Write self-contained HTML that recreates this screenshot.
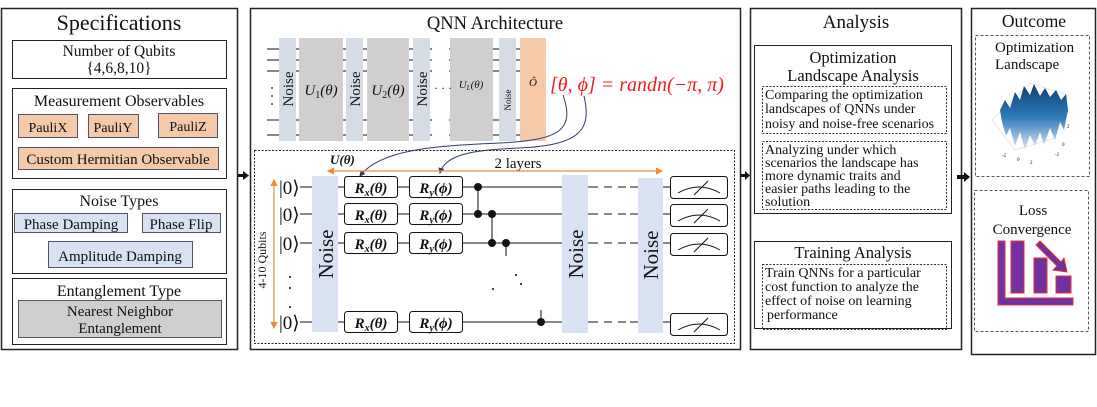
<!DOCTYPE html>
<html><head><meta charset="utf-8"><style>
body{margin:0;background:#fff}
svg{display:block}
text{font-family:"Liberation Serif",serif;fill:#111}
</style></head><body>
<svg width="1097" height="407" viewBox="0 0 1097 407" xmlns="http://www.w3.org/2000/svg">
<defs>
<marker id="ah" markerWidth="6" markerHeight="6" refX="5" refY="3" orient="auto"><path d="M0,0 L6,3 L0,6 z" fill="#2c3e6b"/></marker>
<marker id="oa" markerWidth="6" markerHeight="6" refX="5" refY="3" orient="auto-start-reverse"><path d="M0,0 L6,3 L0,6 z" fill="#f08a3c"/></marker>
<linearGradient id="surf" x1="0" y1="0" x2="0" y2="1"><stop offset="0" stop-color="#0d3f73"/><stop offset="0.5" stop-color="#2f7ab8"/><stop offset="1" stop-color="#dfe6f5"/></linearGradient>
</defs>
<g fill="none" stroke="#222">
<rect x="1.5" y="8.5" width="236" height="341" stroke-width="1.5"/>
<rect x="250.5" y="8.5" width="490" height="341" stroke-width="1.5"/>
<rect x="750.5" y="8.5" width="211" height="341" stroke-width="1.5"/>
<rect x="971.5" y="8.5" width="124" height="346" stroke-width="1.5"/>
<rect x="12.5" y="40.5" width="214" height="38"/>
<rect x="12.5" y="88.5" width="214" height="90"/>
<rect x="12.5" y="189.5" width="214" height="84"/>
<rect x="12.5" y="278.5" width="214" height="66"/>
<rect x="754.5" y="45.5" width="197" height="168"/>
<rect x="754.5" y="241.5" width="197" height="87"/>
</g>
<g fill="#111">
<rect x="238" y="174" width="6" height="3"/><path d="M243,171 L249,175.5 L243,180 z"/>
<rect x="741" y="174" width="5" height="3"/><path d="M745,171 L750,175.5 L745,180 z"/>
<rect x="957" y="175" width="8" height="4"/><path d="M964,172 L970,177 L964,182 z"/>
</g>
<!-- Specifications -->
<text x="119" y="30" font-size="22" text-anchor="middle">Specifications</text>
<text x="119" y="56" font-size="15.5" text-anchor="middle">Number of Qubits</text>
<text x="119" y="73" font-size="15.5" text-anchor="middle">{4,6,8,10}</text>
<text x="119" y="106" font-size="16" text-anchor="middle">Measurement Observables</text>
<g stroke="#556" fill="#f6c9a8">
<rect x="18.5" y="114.5" width="59" height="23"/>
<rect x="88.5" y="114.5" width="50" height="23"/>
<rect x="158.5" y="113.5" width="59" height="24"/>
<rect x="18.5" y="147.5" width="200" height="22"/>
</g>
<text x="48" y="132" font-size="14" text-anchor="middle">PauliX</text>
<text x="113" y="132" font-size="14" text-anchor="middle">PauliY</text>
<text x="188" y="131" font-size="14" text-anchor="middle">PauliZ</text>
<text x="118" y="164" font-size="15" text-anchor="middle">Custom Hermitian Observable</text>
<text x="119" y="206" font-size="16" text-anchor="middle">Noise Types</text>
<g stroke="#556" fill="#d8e2f2">
<rect x="14.5" y="213.5" width="113" height="19"/>
<rect x="142.5" y="213.5" width="78" height="19"/>
<rect x="48.5" y="241.5" width="144" height="26"/>
</g>
<text x="71" y="229" font-size="15" text-anchor="middle">Phase Damping</text>
<text x="181" y="229" font-size="15" text-anchor="middle">Phase Flip</text>
<text x="120" y="261" font-size="15" text-anchor="middle">Amplitude Damping</text>
<text x="119" y="296" font-size="16" text-anchor="middle">Entanglement Type</text>
<rect x="18.5" y="300.5" width="203" height="37" fill="#d0cece" stroke="#556"/>
<text x="120" y="316" font-size="15" text-anchor="middle">Nearest Neighbor</text>
<text x="120" y="333" font-size="15" text-anchor="middle">Entanglement</text>

<!-- QNN top -->
<text x="495" y="29" font-size="18.5" text-anchor="middle">QNN Architecture</text>
<g stroke="#111" stroke-width="1">
<line x1="267" y1="49" x2="520" y2="49"/><line x1="267" y1="60" x2="520" y2="60"/><line x1="267" y1="71" x2="520" y2="71"/>
<line x1="267" y1="120" x2="520" y2="120"/><line x1="267" y1="135" x2="520" y2="135"/>
</g>
<g fill="#d6dce6"><rect x="279" y="38" width="17" height="103"/><rect x="346" y="38" width="17" height="103"/><rect x="413" y="38" width="17" height="103"/><rect x="499" y="38" width="17" height="103"/></g>
<g fill="#d0cece"><rect x="299" y="38" width="44" height="103"/><rect x="367" y="38" width="42" height="103"/><rect x="450" y="38" width="43" height="103"/></g>
<rect x="520" y="38" width="26" height="103" fill="#f6c9a8"/>
<rect x="432" y="38" width="17" height="103" fill="#fff"/>
<rect x="267" y="78" width="11" height="36" fill="#fff"/>
<g fill="#111"><circle cx="272" cy="88" r="0.9"/><circle cx="272" cy="96" r="0.9"/><circle cx="272" cy="104" r="0.9"/></g>
<text x="434" y="92" font-size="12">· · ·</text>
<g font-size="15"><text transform="translate(293,89) rotate(-90)" text-anchor="middle">Noise</text>
<text transform="translate(360,89) rotate(-90)" text-anchor="middle">Noise</text>
<text transform="translate(427,89) rotate(-90)" text-anchor="middle">Noise</text>
<text transform="translate(511,100) rotate(-90)" text-anchor="middle" font-size="9">Noise</text></g>
<text x="321" y="95" font-size="15" font-style="italic" text-anchor="middle">U<tspan font-size="10" dy="3" font-style="normal">1</tspan><tspan dy="-3">(θ)</tspan></text>
<text x="388" y="95" font-size="15" font-style="italic" text-anchor="middle">U<tspan font-size="10" dy="3" font-style="normal">2</tspan><tspan dy="-3">(θ)</tspan></text>
<text x="471" y="88" font-size="11" font-style="italic" text-anchor="middle">U<tspan font-size="7" dy="2">L</tspan><tspan dy="-2">(θ)</tspan></text>
<text x="533" y="86" font-size="11" font-style="italic" text-anchor="middle">Ô</text>
<text x="550" y="91" font-size="20" font-style="italic" style="fill:#f21c1c">[θ, ϕ] = randn(−π, π)</text>
<g fill="none" stroke="#2c3e6b" stroke-width="1">
<path d="M563,95 C575,130 560,140 500,143 C430,146 380,150 360,176" marker-end="url(#ah)"/>
<path d="M584,96 C592,130 580,145 520,148 C470,150 445,155 440,173" marker-end="url(#ah)"/>
</g>

<rect x="254.5" y="150.5" width="480" height="193" fill="none" stroke="#222" stroke-dasharray="2,1.5"/>
<text x="330" y="164" font-size="13" font-weight="bold" font-style="italic">U(θ)</text>
<text x="518" y="168" font-size="15" text-anchor="middle">2 layers</text>
<line x1="328" y1="171" x2="662" y2="171" stroke="#f08a3c" stroke-width="1.2" marker-start="url(#oa)" marker-end="url(#oa)"/>
<line x1="274" y1="180" x2="274" y2="328" stroke="#f08a3c" stroke-width="1.2" marker-start="url(#oa)" marker-end="url(#oa)"/>
<text transform="translate(266,260) rotate(-90)" font-size="12" text-anchor="middle">4-10 Qubits</text>
<g stroke="#111" stroke-width="1">
<line x1="300" y1="187" x2="590" y2="187"/><line x1="300" y1="214" x2="590" y2="214"/><line x1="300" y1="243" x2="590" y2="243"/><line x1="300" y1="322" x2="590" y2="322"/>
<line x1="630" y1="187" x2="670" y2="187"/><line x1="630" y1="214" x2="670" y2="214"/><line x1="630" y1="243" x2="670" y2="243"/><line x1="630" y1="322" x2="670" y2="322"/>
<g stroke-dasharray="8,6"><line x1="590" y1="187" x2="632" y2="187"/><line x1="590" y1="214" x2="632" y2="214"/><line x1="590" y1="243" x2="632" y2="243"/><line x1="590" y1="322" x2="632" y2="322"/></g>
<line x1="478" y1="187" x2="478" y2="214"/><line x1="492" y1="214" x2="492" y2="243"/><line x1="506" y1="243" x2="506" y2="256"/><line x1="541" y1="310" x2="541" y2="322"/>
</g>
<g fill="#111"><circle cx="478" cy="187" r="4"/><circle cx="478" cy="214" r="4"/><circle cx="492" cy="214" r="4"/><circle cx="492" cy="243" r="4"/><circle cx="506" cy="243" r="4"/><circle cx="541" cy="322" r="4"/>
<circle cx="493" cy="289" r="1"/><circle cx="516" cy="275" r="1"/><circle cx="521" cy="284" r="1"/>
<circle cx="290" cy="277" r="1"/><circle cx="290" cy="288" r="1"/><circle cx="290" cy="307" r="1"/></g>
<g font-size="19"><text x="279" y="194">|0⟩</text><text x="279" y="221">|0⟩</text><text x="279" y="250">|0⟩</text><text x="279" y="329">|0⟩</text></g>
<g fill="#d8e2f2"><rect x="312" y="176" width="26" height="156"/><rect x="562" y="175" width="26" height="158"/><rect x="638" y="178" width="25" height="155"/></g>
<g font-size="21"><text transform="translate(333,254) rotate(-90)" text-anchor="middle">Noise</text><text transform="translate(583,254) rotate(-90)" text-anchor="middle">Noise</text><text transform="translate(658,255) rotate(-90)" text-anchor="middle">Noise</text></g>
<g fill="#fff" stroke="#111">
<rect x="344.5" y="176.5" width="53" height="21" rx="3"/><rect x="409.5" y="176.5" width="53" height="21" rx="3"/>
<rect x="344.5" y="203.5" width="53" height="21" rx="3"/><rect x="409.5" y="203.5" width="53" height="21" rx="3"/>
<rect x="344.5" y="232.5" width="53" height="21" rx="3"/><rect x="409.5" y="232.5" width="53" height="21" rx="3"/>
<rect x="344.5" y="311.5" width="53" height="21" rx="3"/><rect x="409.5" y="311.5" width="53" height="21" rx="3"/>
<rect x="670.5" y="176.5" width="57" height="22" rx="3"/><rect x="670.5" y="204.5" width="57" height="22" rx="3"/><rect x="670.5" y="233.5" width="57" height="22" rx="3"/><rect x="670.5" y="313.5" width="57" height="22" rx="3"/>
</g>
<g font-size="15" font-weight="bold" font-style="italic" text-anchor="middle">
<text x="371" y="193">R<tspan font-size="10" dy="3">x</tspan><tspan dy="-3">(θ)</tspan></text><text x="436" y="193">R<tspan font-size="10" dy="3">y</tspan><tspan dy="-3">(ϕ)</tspan></text>
<text x="371" y="220">R<tspan font-size="10" dy="3">x</tspan><tspan dy="-3">(θ)</tspan></text><text x="436" y="220">R<tspan font-size="10" dy="3">y</tspan><tspan dy="-3">(ϕ)</tspan></text>
<text x="371" y="249">R<tspan font-size="10" dy="3">x</tspan><tspan dy="-3">(θ)</tspan></text><text x="436" y="249">R<tspan font-size="10" dy="3">y</tspan><tspan dy="-3">(ϕ)</tspan></text>
<text x="371" y="328">R<tspan font-size="10" dy="3">x</tspan><tspan dy="-3">(θ)</tspan></text><text x="436" y="328">R<tspan font-size="10" dy="3">y</tspan><tspan dy="-3">(ϕ)</tspan></text>
</g>
<g fill="none" stroke="#111">
<path d="M678,193 Q699,181 720,193"/><line x1="694" y1="195" x2="708" y2="181"/>
<path d="M678,221 Q699,209 720,221"/><line x1="694" y1="223" x2="708" y2="209"/>
<path d="M678,250 Q699,238 720,250"/><line x1="694" y1="252" x2="708" y2="238"/>
<path d="M678,330 Q699,318 720,330"/><line x1="694" y1="332" x2="708" y2="318"/>
</g>

<!-- Analysis -->
<text x="856" y="28" font-size="19" text-anchor="middle">Analysis</text>
<text x="853" y="63" font-size="16.5" text-anchor="middle">Optimization</text>
<text x="853" y="81" font-size="16.5" text-anchor="middle">Landscape Analysis</text>
<g fill="none" stroke="#333" stroke-dasharray="2,1.5"><rect x="762.5" y="86.5" width="184" height="47"/><rect x="762.5" y="141.5" width="184" height="68"/><rect x="762.5" y="264.5" width="184" height="65"/></g>
<g font-size="14">
<text x="765" y="99">Comparing the optimization</text><text x="765" y="113">landscapes of QNNs under</text><text x="765" y="128">noisy and noise-free scenarios</text>
<text x="765" y="154">Analyzing under which</text><text x="765" y="167">scenarios the landscape has</text><text x="765" y="180">more dynamic traits and</text><text x="765" y="193">easier paths leading to the</text><text x="765" y="206">solution</text>
<text x="765" y="277">Train QNNs for a particular</text><text x="765" y="291">cost function to analyze the</text><text x="765" y="305">effect of noise on learning</text><text x="767" y="319">performance</text>
</g>
<text x="853" y="258" font-size="16.5" text-anchor="middle">Training Analysis</text>

<!-- Outcome -->
<text x="1034" y="27" font-size="17.5" text-anchor="middle">Outcome</text>
<g fill="none" stroke="#555" stroke-dasharray="3,2"><rect x="975.5" y="35.5" width="114" height="141"/><rect x="974.5" y="190.5" width="114" height="141"/></g>
<text x="995" y="52" font-size="15">Optimization</text>
<text x="995" y="69" font-size="15">Landscape</text>
<g stroke="#ddd" fill="none" stroke-width="0.7"><path d="M992,120 L1015,150 L1055,138 L1068,95 L1030,83 z"/></g>
<path d="M1000,110 L1005,100 L1010,108 L1015,92 L1020,100 L1024,86 L1030,95 L1034,84 L1040,96 L1045,88 L1050,97 L1056,90 L1061,100 L1066,94 L1068,110 L1064,130 L1060,122 L1055,140 L1050,128 L1044,145 L1040,132 L1035,146 L1030,135 L1025,150 L1020,132 L1015,146 L1010,128 L1006,136 L1002,122 z" fill="url(#surf)"/>
<g font-size="5" style="fill:#777" font-family="Liberation Sans"><text x="1002" y="157">-2</text><text x="1017" y="161">0</text><text x="1030" y="164">2</text><text x="1062" y="146">0</text><text x="1055" y="156">-2</text><text x="1067" y="128">2</text></g>
<text x="1033" y="215" font-size="15" text-anchor="middle">Loss</text>
<text x="1032" y="234" font-size="15" text-anchor="middle">Convergence</text>
<g fill="#7030a0" stroke="#e8322d" stroke-width="1">
<path d="M998,241 L1005,241 L1005,298 L1073,298 L1073,305 L998,305 z"/>
<rect x="1011" y="241" width="13" height="52"/>
<rect x="1034" y="258" width="13" height="35"/>
<rect x="1056" y="276" width="15" height="17"/>
<path d="M1036,245 L1040,241 L1061,262 L1064,258 L1067,272 L1053,270 L1057,266 z"/>
</g>
</svg>
</body></html>
